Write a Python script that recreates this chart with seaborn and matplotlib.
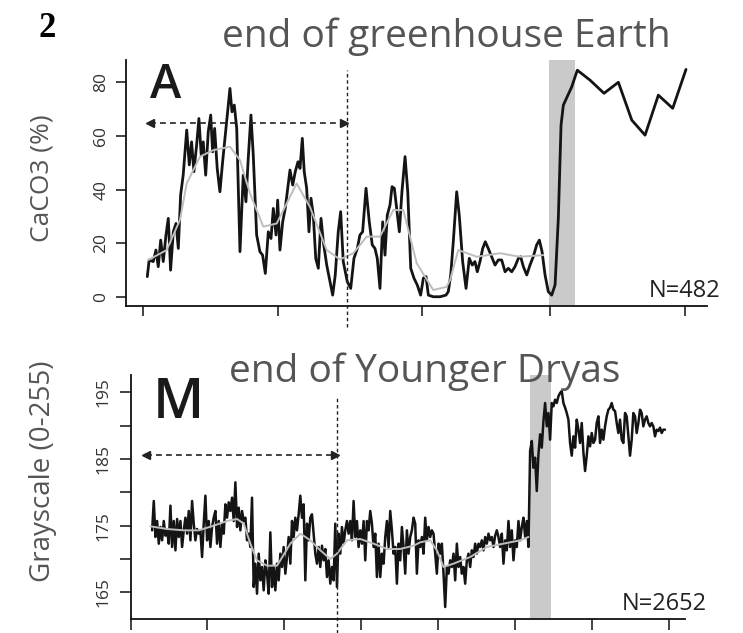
import numpy as np
import pandas as pd
import matplotlib
matplotlib.use("Agg")
import matplotlib.pyplot as plt
import seaborn as sns

# ---------------- data: panel A (CaCO3 %) ----------------
top_x = [3.2, 4.6, 7.6, 9.6, 11.3, 13.1, 15.0, 17.0, 18.7, 20.4,
         22.4, 24.4, 26.1, 27.8, 29.7, 32.3, 34.2, 35.9, 37.6, 39.6,
         41.3, 43.0, 44.5, 46.3, 48.2, 50.0, 51.4, 52.9, 54.8, 56.8,
         58.8, 60.5, 62.2, 64.2, 65.7, 67.4, 69.2, 71.6, 74.0, 76.0,
         77.7, 79.7, 81.4, 83.9, 86.3, 88.3, 90.3, 92.5, 94.5, 96.2,
         98.2, 99.4, 101.1, 103.1, 105.0, 106.8, 108.5, 110.5, 112.4, 114.4,
         115.9, 117.6, 119.0, 120.8, 122.5, 124.0, 125.7, 127.5, 129.4, 131.4,
         133.1, 135.6, 138.0, 140.0, 141.9, 144.1, 145.9, 147.8, 150.8, 153.3,
         155.7, 158.2, 160.1, 162.1, 164.6, 167.0, 169.2, 171.2, 172.9, 174.9,
         176.9, 178.6, 180.3, 182.3, 183.8, 185.5, 187.2, 189.2, 191.1, 193.4,
         195.4, 197.6, 200.0, 202.4, 204.9, 206.9, 208.9, 210.6, 214.2, 219.2,
         223.6, 225.3, 227.1, 229.0, 231.5, 233.4, 235.9, 238.4, 240.8, 243.0,
         245.0, 246.7, 248.7, 250.7, 252.6, 254.8, 257.3, 259.8, 262.2, 264.7,
         267.2, 269.6, 272.1, 274.5, 277.0, 278.7, 280.7, 283.2, 285.6, 288.0,
         290.5, 292.5, 294.5, 296.7, 299.1, 301.6, 304.1, 306.5, 308.5, 310.2,
         316.4, 320.5, 329.9, 340.2, 350.8, 360.7, 370.5, 380.3, 390.9, 400.7]
top_caco3 = [7.6, 13.8, 13.2, 17.5, 11.3, 21.2, 13.2, 23.1, 29.3, 10.0,
             24.3, 27.4, 18.1, 38.0, 45.4, 62.2, 49.2, 57.8, 46.7, 56.6,
             66.5, 52.9, 57.8, 45.4, 61.6, 67.8, 54.1, 62.8, 47.9, 39.2,
             50.4, 59.1, 67.8, 77.7, 69.0, 71.5, 62.8, 16.9, 45.4, 35.5,
             51.7, 67.8, 52.9, 23.1, 16.9, 15.6, 8.8, 24.3, 21.8, 33.0,
             23.1, 36.1, 17.5, 28.0, 33.0, 40.5, 47.3, 41.7, 46.7, 50.4,
             47.9, 59.1, 46.7, 40.5, 24.3, 36.8, 30.5, 14.4, 10.7, 29.3,
             20.6, 11.9, 5.7, 0.7, 8.2, 24.3, 31.8, 13.2, 5.7, 3.2,
             14.4, 18.1, 23.1, 24.3, 40.5, 28.0, 19.4, 18.1, 14.4, 3.2,
             28.0, 15.6, 30.5, 34.3, 41.1, 40.5, 33.0, 24.3, 39.2, 52.3,
             39.2, 10.7, 7.0, 4.5, 0.7, 7.0, 7.6, 0.7, 0.1, 0.1,
             0.7, 2.0, 8.2, 20.6, 39.2, 30.5, 13.2, 3.2, 14.4, 11.9,
             13.2, 9.4, 13.2, 18.1, 20.6, 18.1, 15.0, 11.9, 13.8, 13.8,
             9.4, 10.7, 9.4, 11.3, 14.4, 15.0, 11.3, 8.2, 11.9, 15.0,
             19.4, 21.2, 16.9, 8.2, 2.0, 0.7, 4.5, 29.3, 64.0, 71.5,
             78.3, 84.5, 80.8, 75.9, 80.0, 65.9, 60.3, 75.2, 70.3, 84.8]
top_smooth_x = [3.9, 17.5, 27.3, 32.3, 42.1, 51.9, 64.2, 71.6, 79.0, 88.8,
                98.7, 113.4, 123.2, 135.6, 145.4, 155.2, 165.1, 174.9, 184.7, 192.1,
                202.0, 214.2, 224.1, 226.6, 232.7, 246.3, 263.5, 278.2, 295.4]
top_smooth = [13.8, 17.5, 28.7, 42.3, 52.3, 54.7, 56.0, 51.0, 38.6, 26.2,
              27.4, 42.3, 33.6, 17.5, 14.0, 16.3, 22.5, 22.5, 32.4, 32.4,
              12.6, 2.6, 3.8, 6.3, 17.5, 15.0, 16.3, 15.0, 15.6]
top_yticks = [0, 20, 40, 60, 80]
top_xticks = [0, 100, 206, 300, 400]
top_band = (299.6, 318.8)
top_vline = 150.6
top_arrow = (5.2, 148.0, 64.8)

# ---------------- data: panel M (grayscale) ----------------
bot_gray = [
    # segment 1
    174.3, 178.7, 173.3, 175.7, 172.3, 174.8, 172.8, 175.7, 173.5, 174.3,
    172.3, 178.0, 171.8, 175.7, 171.3, 176.0, 173.3, 175.7, 171.8, 174.3,
    176.2, 173.8, 177.2, 172.8, 178.7, 175.3, 172.8, 174.5, 173.8, 174.3,
    170.3, 175.3, 179.5, 172.8, 175.7, 171.8, 174.8, 176.2, 177.2, 172.3,
    175.7, 171.8, 175.3, 173.8, 178.2, 176.2, 178.5, 177.2, 179.2, 175.7,
    181.5, 174.8, 177.7, 174.3, 177.2, 175.7, 176.2, 172.8, 173.8, 171.8,
    179.2, 165.8, 169.3, 164.8, 170.8, 166.8, 168.8, 165.3, 169.8, 167.8,
    164.8, 174.0, 165.8, 168.8, 165.3, 169.3, 166.8,
    # segment 2
    170.8, 168.8, 171.8, 167.8, 170.3, 173.3, 169.3, 175.7, 173.3, 176.2,
    174.3, 176.7, 179.5, 176.2, 178.2, 166.8, 175.3, 172.8, 176.2, 176.7,
    173.8, 170.8, 169.3, 171.8, 168.8, 172.0, 169.8, 171.5, 167.3, 169.8,
    166.3, 168.8, 166.8, 175.3, 165.8, 173.8, 170.8, 174.8, 172.3, 174.3,
    175.7, 173.8, 175.7, 172.8, 178.7, 173.3, 175.7, 171.8, 174.3, 172.3,
    175.7, 169.8, 175.7, 174.3, 177.2, 175.3, 171.8, 173.8, 167.3, 172.3,
    167.3, 170.8, 169.3, 173.3, 175.7, 171.8, 177.2, 174.3, 170.8, 171.8,
    166.3, 172.3, 169.8, 174.8, 171.8, 167.8, 174.3, 170.8, 173.3, 174.3,
    176.2, 175.3, 167.8, 172.8,
    # segment 3
    171.8, 173.3, 170.8, 176.2, 172.8, 174.8, 173.3, 174.3, 173.8, 170.8,
    167.8, 172.3, 170.8, 172.3, 167.8, 162.8, 168.8, 167.8, 169.8, 168.8,
    170.8, 166.8, 172.3, 168.8, 170.3, 167.8, 168.8, 166.3, 169.8, 170.8,
    168.8, 171.3, 170.3, 172.3, 170.8, 172.3, 171.8, 172.8, 171.3, 173.3,
    172.3, 173.8, 172.8, 173.3, 171.8, 173.5, 174.3, 173.3, 171.8, 173.8,
    169.3, 172.8, 171.3, 175.7, 171.8, 174.3, 169.8, 172.8, 171.8, 175.7,
    172.8, 174.8, 176.2, 173.3, 175.7, 171.8, 186.2, 187.7, 183.7, 185.2,
    180.2, 185.7, 188.7, 186.7, 190.7,
    # segment 4
    193.4, 189.9, 191.9, 187.9, 193.4, 192.9, 193.9, 193.4, 194.4, 194.9,
    195.2, 193.4, 192.7, 191.9, 190.9, 187.4, 185.5, 188.4, 186.7, 190.9,
    189.4, 187.4, 190.4, 186.0, 183.2, 185.5, 188.4, 186.9, 188.9, 187.4,
    187.9, 190.4, 191.4, 187.4, 189.4, 187.9, 189.9, 191.4, 192.4, 192.7,
    193.4, 192.4, 192.2, 190.4, 188.9, 190.9, 187.9, 187.4, 191.9, 191.4,
    188.4, 185.5, 187.9, 191.9, 191.4, 188.9, 190.4, 192.4, 191.9, 189.9,
    190.9, 191.4, 190.4, 189.9, 190.4, 189.9, 188.4, 189.4, 189.2, 189.7,
    188.9, 189.4, 189.4]
bot_first, bot_last = 28.1, 694.8          # first / last sample position (evenly sampled record)
bot_smooth_x = [26.0, 47.6, 69.3, 88.7, 108.2, 125.5, 138.5, 147.2, 155.8, 164.5,
                177.5, 190.5, 207.8, 220.8, 233.8, 246.8, 259.7, 268.4, 281.4, 298.7,
                316.0, 333.3, 350.6, 368.0, 376.6, 389.6, 398.3, 406.9, 419.9, 441.6,
                463.2, 484.8, 506.5, 517.3]
bot_smooth = [174.9, 174.5, 174.3, 174.3, 175.0, 175.7, 176.0, 175.3, 172.3, 169.8,
              169.0, 169.0, 172.3, 173.8, 172.8, 171.3, 170.0, 170.8, 172.8, 173.0,
              172.3, 171.5, 171.5, 172.0, 172.5, 172.8, 171.3, 168.8, 169.3, 170.3,
              171.8, 172.3, 172.8, 173.3]
bot_yticks = [165, 175, 185, 195]
bot_yminor = [170, 180, 190]
bot_xticks = [0, 100, 200, 300, 400, 500, 600, 700]
bot_band = (519.5, 546.8)
bot_vline = 268.8
bot_arrow = (19.5, 266.0, 185.6)

top_df = pd.DataFrame({"x": top_x, "y": top_caco3})
top_sm = pd.DataFrame({"x": top_smooth_x, "y": top_smooth})
bot_df = pd.DataFrame({"x": np.linspace(bot_first, bot_last, len(bot_gray)), "y": bot_gray})
bot_sm = pd.DataFrame({"x": bot_smooth_x, "y": bot_smooth})

# ---------------- style ----------------
sns.set_style("ticks")
plt.rcParams["font.family"] = ["Open Sans", "DejaVu Sans"]
TICKFONT = ["Liberation Sans Narrow", "Open Sans", "DejaVu Sans"]
BLACK = "#141414"
SMOOTH = "#bdbdbd"
BAND = "#cacaca"
TXT = "#555555"

fig = plt.figure(figsize=(7.43, 6.33), dpi=100)
ax1 = fig.add_axes([126 / 743, 1 - 306 / 633, (707 - 126) / 743, (306 - 60) / 633])
ax2 = fig.add_axes([130.5 / 743, 1 - 619 / 633, (685 - 130.5) / 743, (619 - 375) / 633])


def style_axis(ax):
    for s in ["top", "right"]:
        ax.spines[s].set_visible(False)
    for s in ["left", "bottom"]:
        ax.spines[s].set_linewidth(1.3)
        ax.spines[s].set_color("#111111")
    ax.set_xlabel("")
    ax.set_ylabel("")


# ---- panel A ----
ax1.axvspan(*top_band, color=BAND, lw=0, zorder=0)
sns.lineplot(data=top_df, x="x", y="y", ax=ax1, color=BLACK, lw=2.0,
             estimator=None, sort=False, zorder=3)
sns.lineplot(data=top_sm, x="x", y="y", ax=ax1, color=SMOOTH, lw=1.4,
             estimator=None, sort=False, zorder=4)
ax1.set_xlim(-12.5, 416.2)
ax1.set_ylim(-3.35, 88.3)
ax1.set_xticks(top_xticks)
ax1.set_xticklabels([])
ax1.set_yticks(top_yticks)
ax1.set_yticklabels([str(v) for v in top_yticks])
ax1.tick_params(axis="x", length=7, width=1.1, color="#111111", direction="out")
ax1.tick_params(axis="y", length=7, width=1.1, color="#111111", direction="out",
                pad=5, labelsize=12.5, labelcolor="#333333", labelrotation=90)
style_axis(ax1)
ax1.axvline(top_vline, ymin=-0.085, ymax=0.96, color="#222222", lw=1.0,
            ls=(0, (2.5, 2)), clip_on=False, zorder=5)
x0, x1, ya = top_arrow
ax1.plot([x0, x1], [ya, ya], color="#222222", lw=1.2, ls=(0, (3.5, 2.5)), zorder=5)
ax1.plot([x0], [ya], marker="<", ms=6, color="#222222", zorder=5)
ax1.plot([x1], [ya], marker=">", ms=6, color="#222222", zorder=5)

# ---- panel M ----
ax2.axvspan(*bot_band, color=BAND, lw=0, zorder=0)
sns.lineplot(data=bot_df, x="x", y="y", ax=ax2, color=BLACK, lw=1.8,
             estimator=None, sort=False, zorder=3)
sns.lineplot(data=bot_sm, x="x", y="y", ax=ax2, color=SMOOTH, lw=1.4,
             estimator=None, sort=False, zorder=4)
ax2.set_xlim(0, 720.8)
ax2.set_ylim(161.0, 197.6)
ax2.set_xticks(bot_xticks)
ax2.set_xticklabels([])
ax2.set_yticks(bot_yticks)
ax2.set_yticklabels([str(v) for v in bot_yticks])
ax2.set_yticks(bot_yminor, minor=True)
ax2.tick_params(axis="x", length=8, width=1.1, color="#111111", direction="out")
ax2.tick_params(axis="y", which="both", length=8, width=1.1, color="#111111",
                direction="out")
ax2.tick_params(axis="y", which="major", pad=6, labelsize=12.5,
                labelcolor="#333333", labelrotation=90)
style_axis(ax2)
ax2.axvline(bot_vline, ymin=-0.057, ymax=0.906, color="#222222", lw=1.0,
            ls=(0, (2.5, 2)), clip_on=False, zorder=5)
x0, x1, ya = bot_arrow
ax2.plot([x0, x1], [ya, ya], color="#222222", lw=1.2, ls=(0, (3.5, 2.5)), zorder=5)
ax2.plot([x0], [ya], marker="<", ms=6, color="#222222", zorder=5)
ax2.plot([x1], [ya], marker=">", ms=6, color="#222222", zorder=5)

for ax in (ax1, ax2):
    for lab in ax.get_yticklabels():
        lab.set_fontfamily(TICKFONT)
        lab.set_va("center")

# ---------------- texts ----------------
fig.text(38 / 743, 1 - 37 / 633, "2", fontsize=25, fontweight="bold",
         family=["Liberation Serif", "DejaVu Serif"], color="black",
         ha="left", va="baseline")
fig.text(446 / 743, 1 - 47 / 633, "end of greenhouse Earth", fontsize=28,
         color=TXT, ha="center", va="baseline")
fig.text(425 / 743, 1 - 382 / 633, "end of Younger Dryas", fontsize=28,
         color=TXT, ha="center", va="baseline")
fig.text(150 / 743, 1 - 98 / 633, "A", fontsize=34, fontweight="semibold",
         color="#1a1a1a", ha="left", va="baseline")
fig.text(153 / 743, 1 - 418 / 633, "M", fontsize=40, fontweight="semibold",
         color="#1a1a1a", ha="left", va="baseline")
fig.text(720 / 743, 1 - 297 / 633, "N=482", fontsize=17, color="#222222",
         ha="right", va="baseline")
fig.text(707 / 743, 1 - 610 / 633, "N=2652", fontsize=17, color="#222222",
         ha="right", va="baseline")
fig.text(42 / 743, 1 - 178 / 633, "CaCO3 (%)", fontsize=19, color=TXT,
         rotation=90, ha="center", va="center")
fig.text(43 / 743, 1 - 471 / 633, "Grayscale (0-255)", fontsize=20, color=TXT,
         rotation=90, ha="center", va="center")

fig.savefig("out.png", dpi=100)
